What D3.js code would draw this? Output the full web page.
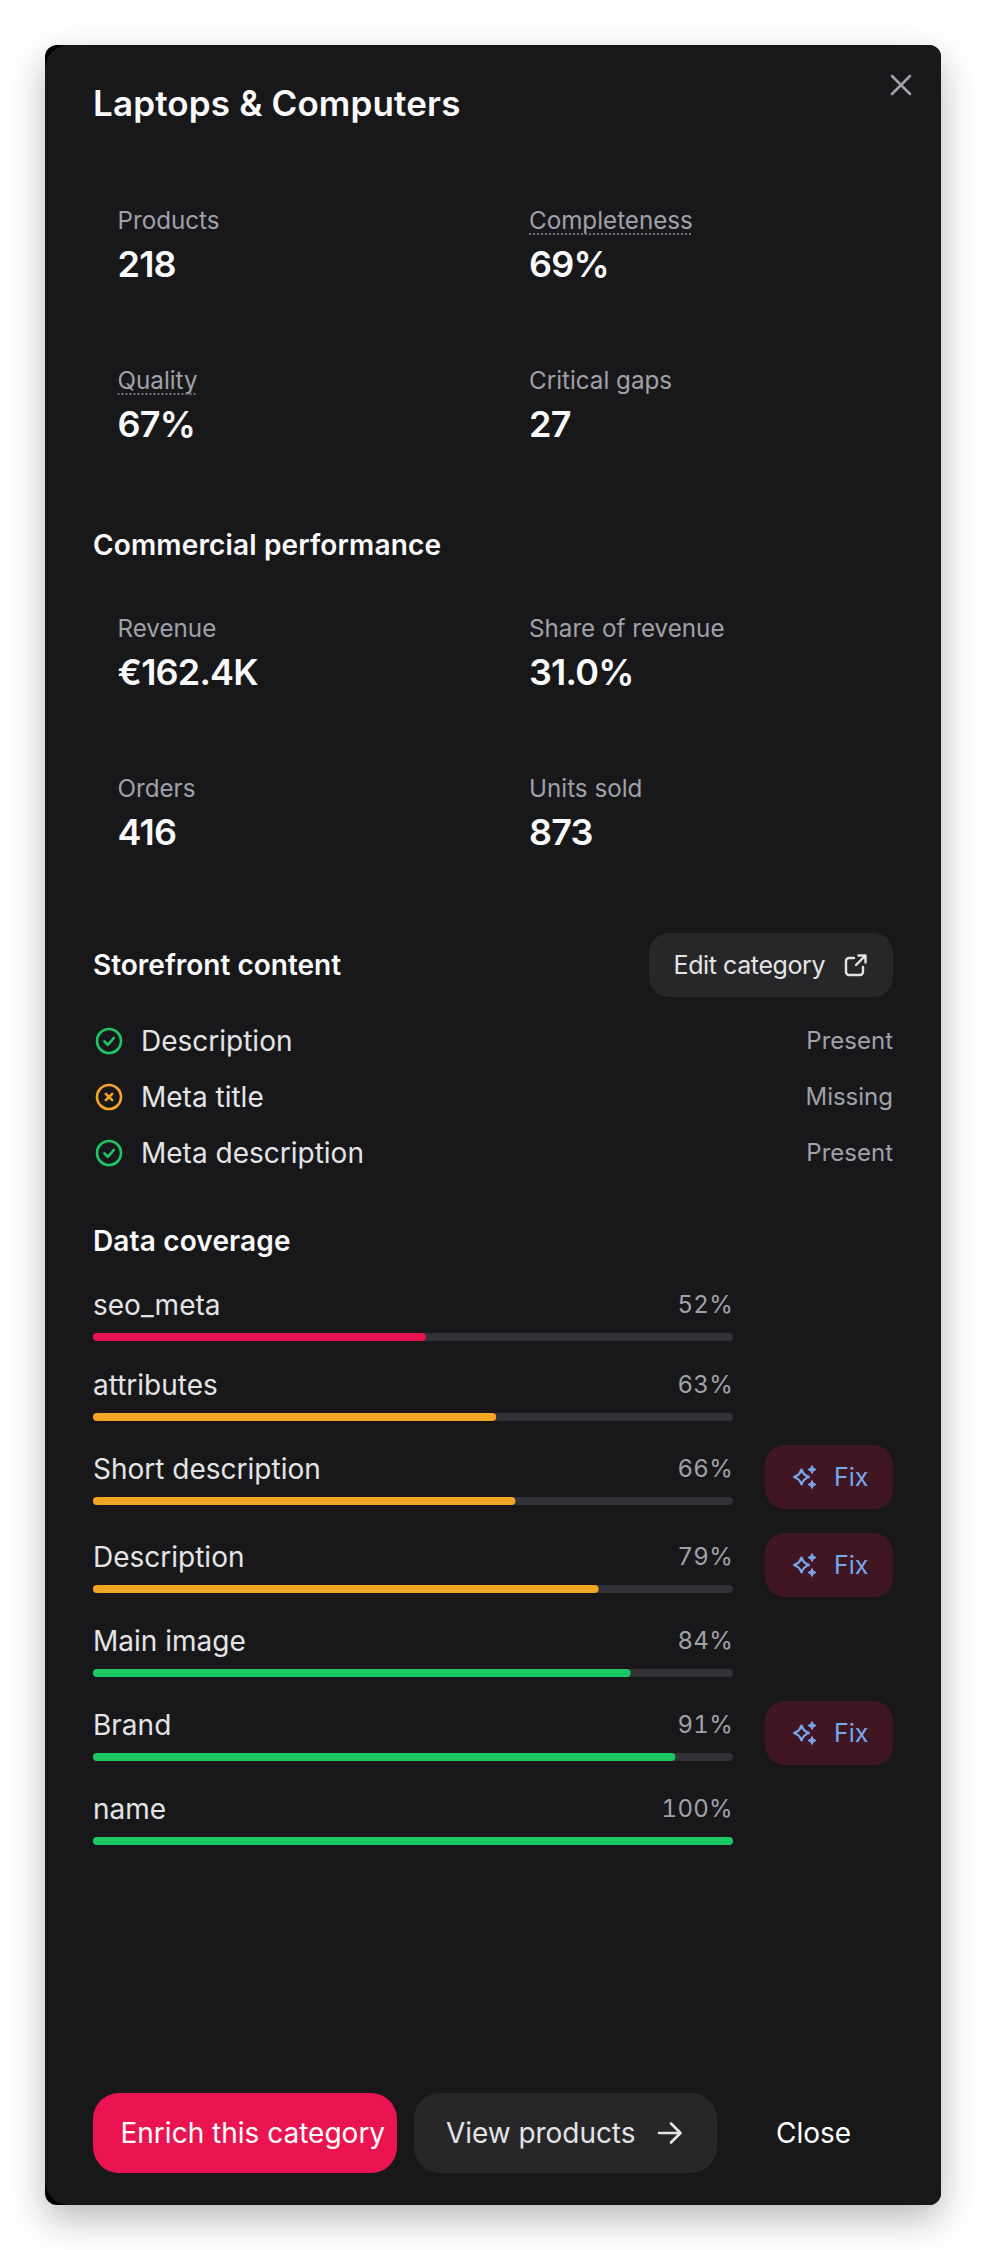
<!DOCTYPE html>
<html>
<head>
<meta charset="utf-8">
<script src="https://cdnjs.cloudflare.com/ajax/libs/d3/7.8.5/d3.min.js"></script>
<style>
  html, body { margin: 0; padding: 0; background: #fff; }
  svg { display: block; }
  text { font-family: "Inter", "Noto Sans", sans-serif; }
</style>
</head>
<body>
<div id="chart"></div>
<script>
// Chart values
const title = "Laptops & Computers";
const overviewLabels = ["Products", "Completeness", "Quality", "Critical gaps"];
const overviewValues = ["218", "69%", "67%", "27"];
const overviewDotted = [false, true, true, false];
const commercialLabels = ["Revenue", "Share of revenue", "Orders", "Units sold"];
const commercialValues = ["€162.4K", "31.0%", "416", "873"];
const contentFields = ["Description", "Meta title", "Meta description"];
const contentStatus = ["Present", "Missing", "Present"];
const coverageFields = ["seo_meta", "attributes", "Short description", "Description", "Main image", "Brand", "name"];
const coverageValues = [52, 63, 66, 79, 84, 91, 100];
const coverageFixable = [false, false, true, true, false, true, false];

const width = 986;
const height = 2250;
const panelBg = "#18181b";
const buttonBg = "#27272a";
const muted = "#a1a1aa";
const soft = "#e4e4e7";
const rose = "#ea1550";
const amber = "#f5a524";
const green = "#1cc864";
const blue = "#78a8f0";

const svg = d3.select("#chart").append("svg")
  .attr("width", width)
  .attr("height", height);

// Panel: black rounded base with the dark surface on top
svg.append("rect")
  .attr("x", 45).attr("y", 45)
  .attr("width", 896).attr("height", 2160)
  .attr("rx", 12)
  .attr("fill", "#000")
  .style("filter", "drop-shadow(0 14px 18px rgba(0,0,0,0.28))");

svg.append("path")
  .attr("d", "M69,45 H929 a12,12 0 0 1 12,12 V2193 a12,12 0 0 1 -12,12 H69 a24,24 0 0 1 -24,-24 V69 a24,24 0 0 1 24,-24 Z")
  .attr("fill", panelBg);

function label(x, y, txt, size, fill, weight, anchor, spacing) {
  return svg.append("text")
    .attr("x", x).attr("y", y)
    .attr("font-size", size)
    .attr("font-weight", weight || 400)
    .attr("fill", fill)
    .attr("text-anchor", anchor || "start")
    .attr("letter-spacing", spacing || 0)
    .text(txt);
}

// Title and close icon
label(93, 116, title, 35, "#fafafa", 600, "start", 0.15);
svg.append("path")
  .attr("d", "M892,76 L910,94 M910,76 L892,94")
  .attr("stroke", muted).attr("stroke-width", 2.6)
  .attr("stroke-linecap", "round").attr("fill", "none");

// Stat grid, two columns by two rows
function statGrid(labels, values, top, dotted) {
  labels.forEach((d, i) => {
    const x = i % 2 === 0 ? 117.5 : 529;
    const y = top + Math.floor(i / 2) * 160;
    const t = label(x, y, d, 24.2, muted, 400);
    label(x, y + 48, values[i], 36, "#fafafa", 600, "start", -0.8);
    if (dotted && dotted[i]) {
      svg.append("line")
        .attr("x1", x).attr("x2", x + t.node().getComputedTextLength())
        .attr("y1", y + 5).attr("y2", y + 5)
        .attr("stroke", "#71717a").attr("stroke-width", 2)
        .attr("stroke-dasharray", "2 2");
    }
  });
}
statGrid(overviewLabels, overviewValues, 229, overviewDotted);

label(93, 555, "Commercial performance", 28, "#fafafa", 600, "start", 0.15);
statGrid(commercialLabels, commercialValues, 637);

// Storefront content
label(93, 975, "Storefront content", 28, "#fafafa", 600);

const editBtn = svg.append("g");
editBtn.append("rect")
  .attr("x", 649).attr("y", 933).attr("width", 244).attr("height", 64)
  .attr("rx", 20).attr("fill", buttonBg);
label(673.5, 974, "Edit category", 25, soft, 400, "start", -0.4);
editBtn.append("path")
  .attr("d", "M854,958 H849 a3,3 0 0 0 -3,3 V972 a3,3 0 0 0 3,3 H860 a3,3 0 0 0 3,-3 V967 M856,965 L865,956 M858.5,955.5 H865.5 V962.5")
  .attr("fill", "none").attr("stroke", soft).attr("stroke-width", 2.4)
  .attr("stroke-linecap", "round").attr("stroke-linejoin", "round");

const contentY = d3.scalePoint().domain(contentFields).range([1041, 1153]);
contentFields.forEach((d, i) => {
  const y = contentY(d);
  const ok = contentStatus[i] === "Present";
  const color = ok ? green : amber;
  svg.append("circle")
    .attr("cx", 109).attr("cy", y).attr("r", 12)
    .attr("fill", "none").attr("stroke", color).attr("stroke-width", 2.6);
  svg.append("path")
    .attr("transform", `translate(109,${y})`)
    .attr("d", ok ? "M-4.5,0.5 L-1.2,3.8 L4.8,-3" : "M-3.2,-3.2 L3.2,3.2 M3.2,-3.2 L-3.2,3.2")
    .attr("fill", "none").attr("stroke", color).attr("stroke-width", 2.6)
    .attr("stroke-linecap", "round").attr("stroke-linejoin", "round");
  label(141, y + 10, d, 28, soft, 400);
  label(893, y + 8, contentStatus[i], 24, muted, 400, "end");
});

// Data coverage bars
label(93, 1251, "Data coverage", 28, "#fafafa", 600, "start", 0.15);

const x = d3.scaleLinear().domain([0, 100]).range([93, 733]);
const barColor = d3.scaleThreshold().domain([60, 80]).range([rose, amber, green]);
const rowGap = 24;
const rows = [];
let rowTop = 1285;
coverageFields.forEach((d, i) => {
  const h = coverageFixable[i] ? 64 : 56;
  rows.push({ name: d, value: coverageValues[i], fix: coverageFixable[i], top: rowTop, h: h });
  rowTop += h + rowGap;
});

const sparkle = (r) => `M0,${-r} Q${r * 0.18},${-r * 0.18} ${r},0 Q${r * 0.18},${r * 0.18} 0,${r} Q${-r * 0.18},${r * 0.18} ${-r},0 Q${-r * 0.18},${-r * 0.18} 0,${-r} Z`;

const row = svg.selectAll("g.row")
  .data(rows)
  .enter()
  .append("g")
  .attr("class", "row")
  .attr("transform", (d) => `translate(0,${d.top + d.h / 2})`);

row.append("rect")
  .attr("x", x(0)).attr("y", 20)
  .attr("width", x(100) - x(0)).attr("height", 8)
  .attr("rx", 4).attr("fill", "#323237");

row.append("rect")
  .attr("x", x(0)).attr("y", 20)
  .attr("width", (d) => x(d.value) - x(0)).attr("height", 8)
  .attr("rx", 4).attr("fill", (d) => barColor(d.value));

row.append("text")
  .attr("x", x(0)).attr("y", 2)
  .attr("font-size", 28).attr("fill", soft)
  .text((d) => d.name);

row.append("text")
  .attr("x", x(100)).attr("y", 0)
  .attr("text-anchor", "end")
  .attr("font-size", 24).attr("letter-spacing", 0.3).attr("fill", muted)
  .style("font-variant-numeric", "tabular-nums")
  .text((d) => d.value + "%");

const fix = row.filter((d) => d.fix).append("g");
fix.append("rect")
  .attr("x", 765).attr("y", -32).attr("width", 128).attr("height", 64)
  .attr("rx", 20).attr("fill", "#3f1622");
fix.append("path")
  .attr("transform", "translate(801.5,0)")
  .attr("d", sparkle(8))
  .attr("fill", "none").attr("stroke", blue).attr("stroke-width", 2.2);
fix.append("path")
  .attr("transform", "translate(812,-7.5)")
  .attr("d", sparkle(4)).attr("fill", blue).attr("stroke", blue);
fix.append("path")
  .attr("transform", "translate(812,7.5)")
  .attr("d", sparkle(4)).attr("fill", blue).attr("stroke", blue);
fix.append("text")
  .attr("x", 834).attr("y", 9)
  .attr("font-size", 25).attr("fill", blue)
  .text("Fix");

// Footer buttons
svg.append("rect")
  .attr("x", 93).attr("y", 2093).attr("width", 304).attr("height", 80)
  .attr("rx", 26).attr("fill", rose);
label(120.5, 2143, "Enrich this category", 28, "#fff", 400, "start", 0);

svg.append("rect")
  .attr("x", 414).attr("y", 2093).attr("width", 303).attr("height", 80)
  .attr("rx", 26).attr("fill", buttonBg);
label(446, 2143, "View products", 28, soft, 400, "start", -0.05);
svg.append("path")
  .attr("d", "M659,2133 H680 M671,2123.5 L680.5,2133 L671,2142.5")
  .attr("fill", "none").attr("stroke", soft).attr("stroke-width", 2.6)
  .attr("stroke-linecap", "round").attr("stroke-linejoin", "round");
label(776, 2143, "Close", 28, "#fff", 400);
</script>
</body>
</html>
